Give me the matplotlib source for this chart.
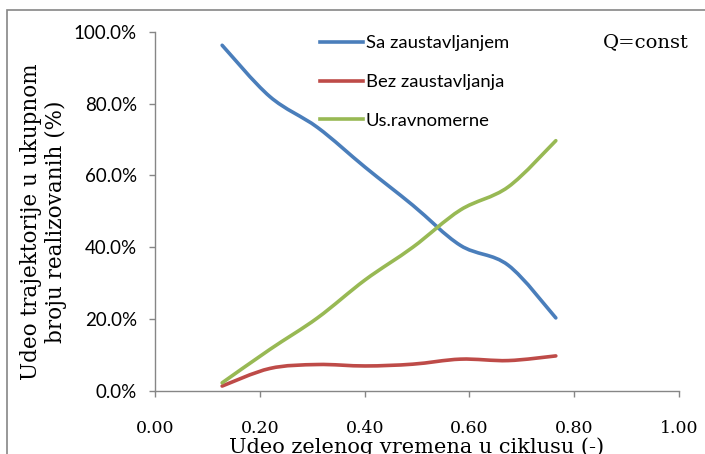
import matplotlib
matplotlib.use("Agg")
import matplotlib.pyplot as plt
from matplotlib.path import Path
from matplotlib.patches import PathPatch, Rectangle
from matplotlib.lines import Line2D
from matplotlib.ticker import FuncFormatter

# Share of green time in the cycle
green_share = [0.128, 0.219, 0.310, 0.401, 0.492, 0.583, 0.674, 0.765]

# Share of trajectories in total number realised (%)
sa_zaustavljanjem = [96.3, 82.0, 73.4, 62.3, 51.7, 40.5, 35.0, 20.3]
bez_zaustavljanja = [1.3, 6.2, 7.3, 6.9, 7.4, 8.8, 8.4, 9.7]
us_ravnomerne = [2.2, 11.5, 20.3, 30.9, 40.0, 50.4, 56.8, 69.7]

series_names = ["Sa zaustavljanjem", "Bez zaustavljanja", "Us.ravnomerne"]
series_colors = ["#4A7EBB", "#BE4B48", "#98B954"]

x_ticks = [0.0, 0.2, 0.4, 0.6, 0.8, 1.0]
y_ticks = [0, 20, 40, 60, 80, 100]

SANS = "Lato"
SERIF = "DejaVu Serif"
GRAY = "#868686"


def smooth_path(xs, ys):
    """Cubic Bezier path through the points (Catmull-Rom style tangents)."""
    pts = list(zip(xs, ys))
    verts = [pts[0]]
    codes = [Path.MOVETO]
    n = len(pts)
    for i in range(n - 1):
        p0 = pts[i - 1] if i > 0 else pts[i]
        p1 = pts[i]
        p2 = pts[i + 1]
        p3 = pts[i + 2] if i + 2 < n else pts[i + 1]
        c1 = (p1[0] + (p2[0] - p0[0]) / 6.0, p1[1] + (p2[1] - p0[1]) / 6.0)
        c2 = (p2[0] - (p3[0] - p1[0]) / 6.0, p2[1] - (p3[1] - p1[1]) / 6.0)
        verts += [c1, c2, p2]
        codes += [Path.CURVE4] * 3
    return Path(verts, codes)


fig = plt.figure(figsize=(7.05, 4.54), dpi=100)
ax = fig.add_axes([0.22, 0.1394, 0.743, 0.7901])

for ys, name, color in zip([sa_zaustavljanjem, bez_zaustavljanja, us_ravnomerne],
                           series_names, series_colors):
    patch = PathPatch(smooth_path(green_share, ys), facecolor="none",
                      edgecolor=color, lw=2.6, capstyle="round",
                      joinstyle="round")
    ax.add_patch(patch)

ax.set_xlim(0, 1.0)
ax.set_ylim(0, 100)
ax.set_xticks(x_ticks)
ax.set_yticks(y_ticks)
ax.xaxis.set_major_formatter(FuncFormatter(lambda v, p: f"{v:.2f}"))
ax.yaxis.set_major_formatter(FuncFormatter(lambda v, p: f"{v:.1f}%"))

for side in ["top", "right"]:
    ax.spines[side].set_visible(False)
for side in ["left", "bottom"]:
    ax.spines[side].set_color(GRAY)
    ax.spines[side].set_linewidth(1.0)

ax.tick_params(axis="both", direction="out", length=4, width=1.0, color=GRAY)
ax.tick_params(axis="y", pad=9, labelsize=13.5)
ax.tick_params(axis="x", pad=17, labelsize=12.5)
for lab in ax.get_yticklabels():
    lab.set_fontfamily(SANS)
for lab in ax.get_xticklabels():
    lab.set_fontfamily(SERIF)

ax.set_xlabel("Udeo zelenog vremena u ciklusu (-)", fontfamily=SERIF,
              fontsize=15, labelpad=0)
ax.set_ylabel("Udeo trajektorije u ukupnom\nbroju realizovanih (%)",
              fontfamily=SERIF, fontsize=15.5, linespacing=1.14,
              va="center", ha="center")
ax.yaxis.set_label_coords(-0.213, 0.471)

handles = [Line2D([], [], color=c, lw=2.6) for c in series_colors]
leg = ax.legend(handles, series_names, loc="upper left",
                bbox_to_anchor=(0.3, 1.011), frameon=False,
                prop={"family": SANS, "size": 13.3}, handlelength=2.35,
                handletextpad=0.16, labelspacing=1.22, borderaxespad=0)

ax.text(1.019, 0.971, "Q=const", transform=ax.transAxes, ha="right",
        va="center", fontfamily=SERIF, fontsize=14)

# outer chart frame
fig.patches.append(Rectangle((7 / 705, -0.05), 1.2, 1 - 10 / 454 + 0.05,
                             transform=fig.transFigure, fill=False,
                             edgecolor=GRAY, lw=1.2))

fig.savefig("out.png", dpi=100)
